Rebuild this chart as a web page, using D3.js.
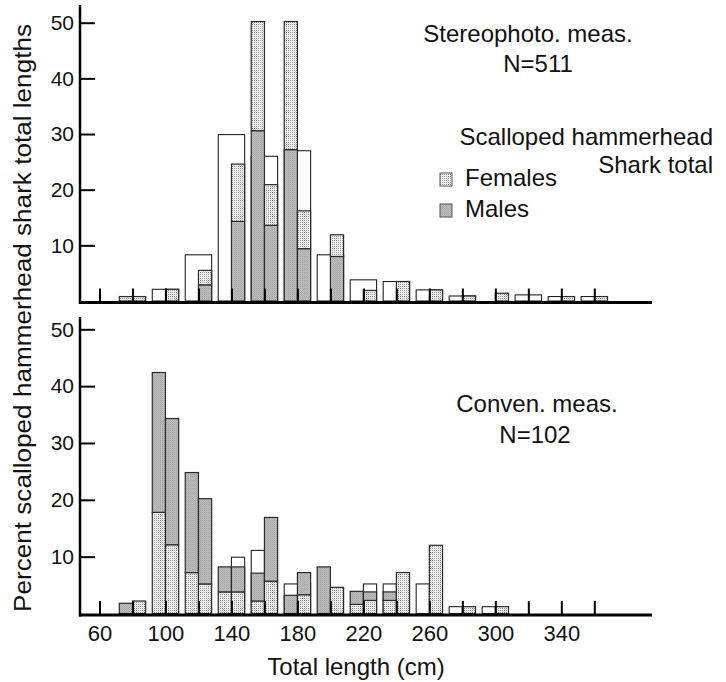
<!DOCTYPE html>
<html>
<head>
<meta charset="utf-8">
<script src="https://cdn.jsdelivr.net/npm/d3@7"></script>
<style>
  body { margin: 0; background: #fff; }
  svg { font-family: "Liberation Sans", Arial, sans-serif; }
</style>
</head>
<body>
<div id="chart"></div>
<script>
// x ticks every 20 cm, labels every 40
var xTicks = [60, 80, 100, 120, 140, 160, 180, 200, 220, 240, 260, 280, 300, 320, 340, 360];
var xLabels = [60, 100, 140, 180, 220, 260, 300, 340];
var yTicks = [10, 20, 30, 40, 50];

// stereophoto panel: total (white) bars, class from / to in cm
var upperTotalFrom = [92, 112, 132, 152, 172, 192, 212, 232, 252, 272, 312, 332, 352];
var upperTotalTo   = [108, 128, 148, 168, 188, 208, 228, 248, 268, 288, 328, 348, 368];
var upperTotal     = [2.1, 8.3, 29.9, 26.0, 27.0, 8.3, 3.8, 3.5, 2.0, 0.9, 1.1, 0.8, 0.8];
// stereophoto panel: males / females, class start in cm
var upperSexFrom = [72, 80, 100, 120, 140, 152, 160, 172, 180, 200, 220, 240, 260, 280, 300, 340, 360];
var upperMale    = [0, 0, 0, 2.9, 14.3, 30.6, 13.6, 27.2, 9.4, 8.0, 0, 0, 0, 0, 0, 0, 0];
var upperFemale  = [0.8, 0.8, 2.1, 2.6, 10.3, 19.6, 7.3, 23.0, 6.8, 3.9, 1.9, 3.5, 2.0, 0.9, 1.4, 0.8, 0.8];

// conventional panel
var lowerTotalFrom = [140, 152, 172, 220, 232, 252, 272, 292];
var lowerTotalTo   = [148, 160, 188, 228, 240, 260, 280, 300];
var lowerTotal     = [9.9, 11.1, 5.2, 5.2, 5.2, 5.2, 1.2, 1.2];
var lowerSexFrom = [72, 80, 92, 100, 112, 120, 132, 140, 152, 160, 172, 180, 192, 200, 212, 220, 232, 240, 260, 280, 300];
var lowerFemale  = [0, 2.2, 17.8, 12.1, 7.2, 5.2, 3.8, 3.8, 2.2, 5.7, 0, 3.3, 0, 4.6, 1.6, 2.3, 2.3, 7.2, 12.0, 1.2, 1.2];
var lowerMale    = [1.8, 0, 24.6, 22.2, 17.6, 15.0, 4.4, 4.4, 4.9, 11.2, 3.2, 3.9, 8.2, 0, 2.3, 1.5, 1.5, 0, 0, 0, 0];

var width = 726, height = 682,
    classWidth = 8; // cm covered by one male/female bar

var svg = d3.select("#chart").append("svg")
    .attr("width", width)
    .attr("height", height);

// fills: stipple for females, grainy gray for males
var defs = svg.append("defs");
var fem = defs.append("pattern").attr("id", "fem")
    .attr("patternUnits", "userSpaceOnUse").attr("width", 2).attr("height", 2);
fem.append("rect").attr("width", 2).attr("height", 2).attr("fill", "#fff");
fem.append("rect").attr("width", 1).attr("height", 1).attr("fill", "#8c8c8c");
fem.append("rect").attr("x", 1).attr("y", 1).attr("width", 1).attr("height", 1).attr("fill", "#e0e0e0");
var mal = defs.append("pattern").attr("id", "mal")
    .attr("patternUnits", "userSpaceOnUse").attr("width", 2).attr("height", 2);
mal.append("rect").attr("width", 2).attr("height", 2).attr("fill", "#bdbdbd");
mal.append("rect").attr("width", 1).attr("height", 1).attr("fill", "#a6a6a6");
mal.append("rect").attr("x", 1).attr("y", 1).attr("width", 1).attr("height", 1).attr("fill", "#b0b0b0");

var x = d3.scaleLinear().domain([60, 360]).range([99.5, 594.3]);
var yUp = d3.scaleLinear().domain([0, 50]).range([301, 22.7]);
var yLo = d3.scaleLinear().domain([0, 50]).range([613.5, 329.3]);

function panel(y, top, totFrom, totTo, tot, sexFrom, male, female, maleOnTop, showLabels) {
    var g = svg.append("g");

    // white total bars
    g.selectAll("rect.total")
        .data(tot)
        .enter().append("rect")
        .attr("class", "total")
        .attr("x", (d, i) => x(totFrom[i]))
        .attr("width", (d, i) => x(totTo[i]) - x(totFrom[i]))
        .attr("y", d => y(d))
        .attr("height", d => y(0) - y(d))
        .attr("fill", "#fff")
        .attr("stroke", "#222")
        .attr("stroke-width", 1.1);

    // stacked males / females
    var segs = [];
    sexFrom.forEach(function(s, i) {
        var first = maleOnTop ? female[i] : male[i];
        var second = maleOnTop ? male[i] : female[i];
        var fill1 = maleOnTop ? "url(#fem)" : "url(#mal)";
        var fill2 = maleOnTop ? "url(#mal)" : "url(#fem)";
        if (first > 0) segs.push({ from: s, lo: 0, hi: first, fill: fill1 });
        if (second > 0) segs.push({ from: s, lo: first, hi: first + second, fill: fill2 });
    });
    g.selectAll("rect.sex")
        .data(segs)
        .enter().append("rect")
        .attr("class", "sex")
        .attr("x", d => x(d.from))
        .attr("width", d => x(d.from + classWidth) - x(d.from))
        .attr("y", d => y(d.hi))
        .attr("height", d => y(d.lo) - y(d.hi))
        .attr("fill", d => d.fill)
        .attr("stroke", "#2a2a2a")
        .attr("stroke-width", 1.2);

    // y axis
    var yAxis = g.append("g")
        .attr("transform", "translate(80,0)")
        .call(d3.axisLeft(y).tickValues(yTicks).tickSizeInner(-15).tickSizeOuter(0).tickPadding(6));
    yAxis.select(".domain").remove();
    yAxis.selectAll("line").attr("stroke", "#000").attr("stroke-width", 2);
    yAxis.selectAll("text").style("font-size", "21px").attr("fill", "#111");
    g.append("line")
        .attr("x1", 80).attr("x2", 80)
        .attr("y1", top).attr("y2", y(0) + 3)
        .attr("stroke", "#000").attr("stroke-width", 2.5);

    // x axis
    var xAxis = g.append("g")
        .attr("transform", "translate(0," + (y(0) + 1.5) + ")")
        .call(d3.axisBottom(x).tickValues(xTicks).tickSizeInner(-14).tickSizeOuter(0).tickPadding(10)
            .tickFormat(d => showLabels && xLabels.indexOf(d) >= 0 ? d : ""));
    xAxis.select(".domain").remove();
    xAxis.selectAll("line").attr("stroke", "#000").attr("stroke-width", 2);
    xAxis.selectAll("text").style("font-size", "22px").attr("fill", "#111");
    g.append("line")
        .attr("x1", 79).attr("x2", 652)
        .attr("y1", y(0) + 1.5).attr("y2", y(0) + 1.5)
        .attr("stroke", "#000").attr("stroke-width", 3);
}

panel(yUp, 5, upperTotalFrom, upperTotalTo, upperTotal, upperSexFrom, upperMale, upperFemale, false, false);
panel(yLo, 317, lowerTotalFrom, lowerTotalTo, lowerTotal, lowerSexFrom, lowerMale, lowerFemale, true, true);

// texts
function label(txt, px, py, anchor) {
    return svg.append("text")
        .attr("x", px).attr("y", py)
        .attr("text-anchor", anchor || "middle")
        .style("font-size", "24px")
        .attr("fill", "#111")
        .text(txt);
}
label("Stereophoto. meas.", 528, 42);
label("N=511", 538, 72);
label("Scalloped hammerhead", 713, 145, "end");
label("Shark total", 713, 173, "end");
label("Females", 465, 186, "start");
label("Males", 465, 217, "start");
label("Conven. meas.", 537, 412);
label("N=102", 535, 443);
label("Total length (cm)", 356, 675);

svg.append("text")
    .attr("transform", "translate(31,318) rotate(-90)")
    .attr("text-anchor", "middle")
    .attr("textLength", 588)
    .attr("lengthAdjust", "spacingAndGlyphs")
    .style("font-size", "23px")
    .attr("fill", "#111")
    .text("Percent scalloped hammerhead shark total lengths");

// legend swatches
svg.append("rect").attr("x", 440).attr("y", 173).attr("width", 12).attr("height", 13)
    .attr("fill", "url(#fem)").attr("stroke", "#555").attr("stroke-width", 1);
svg.append("rect").attr("x", 440).attr("y", 204).attr("width", 12).attr("height", 13)
    .attr("fill", "url(#mal)").attr("stroke", "#555").attr("stroke-width", 1);
</script>
</body>
</html>
